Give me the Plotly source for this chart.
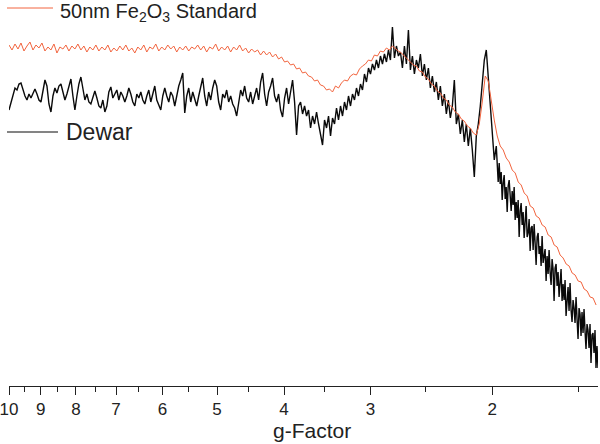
import numpy as np
import plotly.graph_objects as go

# g-factor sampling limits (log-spaced along the swept axis)
g_first = 10.0
g_split_a = 1.973   # end of the coarse part of the Dewar record
g_split_b = 1.967   # start of the finely sampled high-field tail
g_last_dewar = 1.406
g_last_std = 1.415

# Dewar EPR signal (arbitrary units): g = 10 ... 1.97
dewar_main = [
    276, 284, 292, 298, 296, 302, 303, 296, 290, 286,
    292, 288, 293, 297, 292, 286, 284, 294, 306, 300,
    282, 274, 290, 298, 293, 300, 302, 294, 286, 292,
    300, 307, 290, 276, 290, 302, 309, 296, 286, 292,
    284, 282, 290, 295, 288, 280, 278, 286, 274, 280,
    294, 299, 288, 292, 296, 286, 294, 290, 284, 290,
    298, 292, 284, 280, 292, 288, 294, 286, 282, 290,
    296, 284, 292, 300, 286, 280, 276, 290, 298, 290,
    284, 294, 290, 280, 292, 300, 306, 313, 273, 290,
    298, 284, 294, 288, 280, 290, 300, 308, 290, 280,
    294, 286, 298, 306, 300, 284, 276, 292, 288, 296,
    284, 290, 282, 278, 270, 286, 296, 290, 300, 288,
    284, 294, 282, 290, 298, 286, 304, 313, 292, 280,
    294, 300, 308, 290, 284, 292, 276, 269, 288, 298,
    282, 294, 306, 284, 251, 280,
    284, 272, 280, 270, 276, 258, 270, 262, 274, 262,
    252, 241, 266, 258, 270, 250, 268, 262, 278, 266,
    280, 270, 284, 276, 290, 280, 292, 286, 298, 290,
    302, 296, 312, 304, 318, 312, 322, 316, 326, 318,
    330, 322, 332, 324, 336, 326, 359, 328, 340, 330,
    334, 318, 340, 322, 356, 316, 330, 312, 326, 318,
    332, 310, 322, 306, 318, 298, 310, 294, 304, 286,
    300, 280, 292, 272, 286, 268, 280, 306, 262, 272,
    252, 266, 244, 262, 240, 258, 236, 209, 250, 262,
    280, 300, 326, 336, 310, 284, 252, 226, 240,
]

# Dewar EPR signal, high-field tail: g = 1.97 ... 1.41
dewar_tail = [
    221, 204, 223, 202, 214, 186, 203, 211, 187, 199,
    174, 200, 206, 182, 175, 195, 181, 199, 166, 184,
    168, 186, 149, 175, 183, 161, 174, 148, 164, 180,
    149, 153, 167, 135, 158, 160, 136, 162, 143, 121,
    149, 153, 132, 140, 120, 150, 123, 131, 137, 105,
    130, 112, 136, 114, 101, 127, 117, 85, 118, 122,
    100, 114, 89, 103, 117, 85, 102, 86, 106, 70,
    93, 99, 75, 103, 76, 64, 86, 78, 63, 89,
    67, 47, 78, 72, 50, 74, 53, 77, 55, 37,
    62, 56, 38, 62, 23, 51, 53, 33, 56, 18,
    40, 18,
]

# 50 nm Fe2O3 standard EPR signal (arbitrary units)
standard = [
    341, 336, 342, 337, 343, 335, 340, 344, 336, 341,
    338, 343, 335, 339, 336, 342, 333, 339, 337, 341,
    335, 340, 337, 342, 336, 340, 334, 339, 336, 341,
    335, 339, 336, 341, 334, 338, 335, 340, 336, 341,
    335, 338, 333, 339, 336, 341, 334, 339, 337, 342,
    335, 339, 336, 341, 337, 340, 334, 339, 336, 340,
    335, 339, 337, 341, 336, 340, 334, 339, 337, 342,
    335, 339, 336, 340, 334, 339, 336, 341, 335, 338,
    333, 337, 334, 336, 331, 335, 331, 334, 329, 332,
    327, 329, 324, 325, 321, 322, 317, 318, 313, 314,
    310, 309, 305, 306, 301, 300, 296, 297, 294, 300,
    298, 303, 306, 305, 310, 312, 311, 317, 320, 322,
    326, 325, 331, 330, 335, 334, 338, 336, 340, 337,
    335, 333, 330, 327, 325, 321, 320, 315, 314, 309,
    307, 302, 300, 295, 293, 288, 286, 281, 279, 274,
    272, 267, 265, 260, 258, 253, 251, 262, 284, 310,
    305, 284, 266, 250, 240, 236, 228, 224, 216, 213,
    204, 201, 193, 190, 180, 178, 170, 168, 161, 159,
    151, 149, 141, 139, 131, 128, 122, 120, 113, 111,
    105, 104, 97, 95, 89, 88, 81,
]

tick_vals = [10, 9, 8, 7, 6, 5, 4, 3, 2]
tick_text = ["10", "9", "8", "7", "6", "5", "4", "3", "2"]
minor_vals = [9.5, 8.5, 7.5, 6.5, 5.5, 4.5, 3.5, 2.5, 1.5]

g_dewar = np.concatenate([
    np.geomspace(g_first, g_split_a, len(dewar_main)),
    np.geomspace(g_split_b, g_last_dewar, len(dewar_tail)),
])
dewar = dewar_main + dewar_tail
g_std = np.geomspace(g_first, g_last_std, len(standard))

FONT = "Liberation Sans, Arial, sans-serif"
ORANGE = "#F2643E"
BLACK = "#0a0a0a"
TXT = "#222222"

fig = go.Figure()
fig.add_trace(go.Scatter(x=g_dewar, y=dewar, mode="lines",
                         line=dict(color=BLACK, width=1.4), showlegend=False))
fig.add_trace(go.Scatter(x=g_std, y=standard, mode="lines",
                         line=dict(color=ORANGE, width=1), showlegend=False))

W, H = 600, 444
ml, mr, mt, mb = 9, 2, 0, 58
pw, ph = W - ml - mr, H - mt - mb

def px(xp):
    return (xp - ml) / pw

def py(yp):
    return (H - mb - yp) / ph

fig.update_layout(
    width=W, height=H,
    margin=dict(l=ml, r=mr, t=mt, b=mb),
    paper_bgcolor="white", plot_bgcolor="white",
    font=dict(family=FONT, color=TXT),
    xaxis=dict(
        type="log",
        range=[np.log10(g_first), np.log10(g_last_dewar)],
        showgrid=False, zeroline=False,
        showline=True, linecolor=TXT, linewidth=1,
        ticks="outside", ticklen=8, tickwidth=1, tickcolor=TXT,
        tickmode="array", tickvals=tick_vals, ticktext=tick_text,
        ticklabeloverflow="allow",
        tickfont=dict(size=17, family=FONT, color=TXT),
        minor=dict(tickmode="array", tickvals=minor_vals, ticks="outside",
                   ticklen=5, tickwidth=1, tickcolor=TXT, showgrid=False),
    ),
    yaxis=dict(visible=False, range=[0, 386]),
    shapes=[
        dict(type="line", xref="paper", yref="paper",
             x0=px(7), x1=px(53), y0=py(8), y1=py(8),
             line=dict(color=ORANGE, width=1)),
        dict(type="line", xref="paper", yref="paper",
             x0=px(7), x1=px(58), y0=py(132), y1=py(132),
             line=dict(color=BLACK, width=1.2)),
    ],
    annotations=[
        dict(xref="paper", yref="paper", x=px(58), y=py(12),
             xanchor="left", yanchor="middle", showarrow=False,
             text="50nm Fe<sub>2</sub>O<sub>3</sub> Standard",
             font=dict(size=20, family=FONT, color=TXT)),
        dict(xref="paper", yref="paper", x=px(64), y=py(132),
             xanchor="left", yanchor="middle", showarrow=False,
             text="Dewar",
             font=dict(size=23, family=FONT, color=TXT)),
        dict(xref="paper", yref="paper", x=px(312), y=py(430),
             xanchor="center", yanchor="middle", showarrow=False,
             text="g-Factor",
             font=dict(size=21, family=FONT, color=TXT)),
    ],
)

fig.write_html("out.html", config={"displayModeBar": False},
               post_script="document.body.style.margin='0';document.body.style.overflow='hidden';")
